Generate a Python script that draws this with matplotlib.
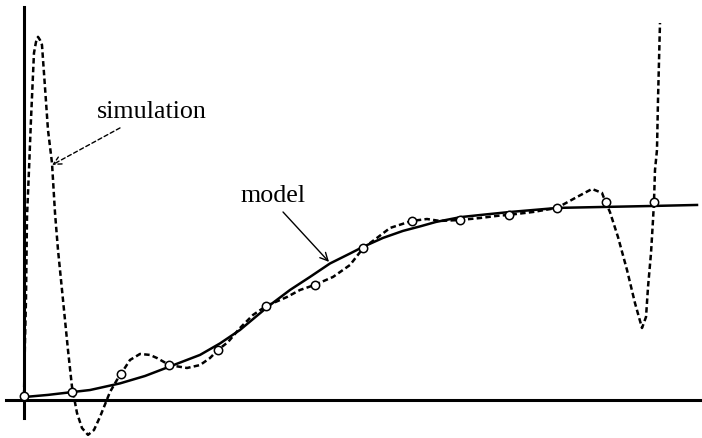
import matplotlib
matplotlib.use("Agg")
import matplotlib.pyplot as plt

# ---- data (x in sample index units, y normalised so the model plateau ~ 1) ----
sample_x = list(range(14))
sample_y = [0.021, 0.041, 0.133, 0.179, 0.256, 0.482, 0.590, 0.779,
            0.918, 0.923, 0.949, 0.985, 1.015, 1.015]

model_x = [0.0, 0.495, 1.011, 1.362, 1.981, 2.497, 3.013, 3.632, 4.045, 4.457,
           5.035, 5.489, 5.902, 6.315, 6.727, 6.996, 7.408, 7.821, 8.172,
           8.502, 9.018, 9.513, 10.029, 11.019, 12.010, 13.000, 13.888]
model_y = [0.015, 0.026, 0.041, 0.051, 0.085, 0.123, 0.172, 0.231, 0.290, 0.359,
           0.479, 0.564, 0.631, 0.700, 0.751, 0.785, 0.831, 0.867, 0.890,
           0.913, 0.938, 0.951, 0.964, 0.985, 0.990, 0.995, 1.000]

sim_x = [0.000, 0.021, 0.041, 0.062, 0.103, 0.144, 0.206, 0.248, 0.289, 0.330,
         0.371, 0.433, 0.495, 0.578, 0.640, 0.702, 0.805, 0.908, 0.991, 1.011,
         1.094, 1.197, 1.321, 1.444, 1.568, 1.775, 1.919, 2.000, 2.187, 2.394,
         2.600, 2.745, 3.000, 3.364, 3.632, 3.838, 4.000, 4.210, 4.457, 4.726,
         5.000, 5.427, 5.695, 6.000, 6.378, 6.727, 7.000, 7.284, 7.553, 8.000,
         8.316, 8.584, 9.000, 9.410, 9.761, 10.000, 10.504, 11.000, 11.412,
         11.721, 11.927, 12.000, 12.091, 12.257, 12.443, 12.608, 12.753,
         12.836, 12.877, 12.939, 12.980, 13.000, 13.021, 13.062, 13.083, 13.124]
sim_y = [0.021, 0.308, 0.513, 0.938, 1.179, 1.436, 1.779, 1.836, 1.862, 1.846,
         1.821, 1.605, 1.385, 1.215, 0.959, 0.769, 0.513, 0.256, 0.067, 0.041,
         -0.067, -0.144, -0.179, -0.154, -0.087, 0.041, 0.103, 0.133, 0.205, 0.236,
         0.231, 0.215, 0.179, 0.164, 0.179, 0.215, 0.256, 0.297, 0.369, 0.436,
         0.482, 0.528, 0.564, 0.590, 0.631, 0.692, 0.779, 0.831, 0.882, 0.918,
         0.928, 0.918, 0.923, 0.933, 0.944, 0.949, 0.964, 0.985, 1.041,
         1.082, 1.062, 1.015, 0.964, 0.836, 0.667, 0.497, 0.369,
         0.426, 0.579, 0.754, 0.923, 1.015, 1.179, 1.282, 1.538, 1.933]

label_sim = "simulation"
label_model = "model"

# ---- figure ----
fig = plt.figure(figsize=(7.02, 4.38), dpi=100)
ax = fig.add_axes([0, 0, 1, 1])
ax.set_xlim(-0.495, 13.991)
ax.set_ylim(-0.195, 2.051)
ax.axis("off")

ax.axhline(0, xmin=0.0085, xmax=1.0, color="black", lw=2.2)
ax.axvline(0, ymin=0.0457, ymax=0.984, color="black", lw=2.2)

ax.plot(model_x, model_y, color="black", lw=1.8, solid_joinstyle="round")
ax.plot(sim_x, sim_y, color="black", lw=1.8, linestyle=(0, (2.2, 1.3)))
ax.plot(sample_x, sample_y, linestyle="none", marker="o", markersize=6.0,
        markerfacecolor="white", markeredgecolor="black", markeredgewidth=1.1,
        zorder=5)

font = dict(family="Liberation Serif", size=18.7)
ax.text(1.506, 1.446, label_sim, ha="left", va="baseline", **font)
ax.text(4.478, 1.015, label_model, ha="left", va="baseline", **font)

ax.annotate("", xy=(0.578, 1.205), xytext=(1.981, 1.395),
            arrowprops=dict(arrowstyle="->", lw=1.0, linestyle=(0, (3, 2)),
                            color="black", shrinkA=0, shrinkB=0,
                            mutation_scale=14))
ax.annotate("", xy=(6.294, 0.708), xytext=(5.345, 0.964),
            arrowprops=dict(arrowstyle="->", lw=1.0, color="black",
                            shrinkA=0, shrinkB=0, mutation_scale=14))

fig.savefig("out.png", dpi=100)
